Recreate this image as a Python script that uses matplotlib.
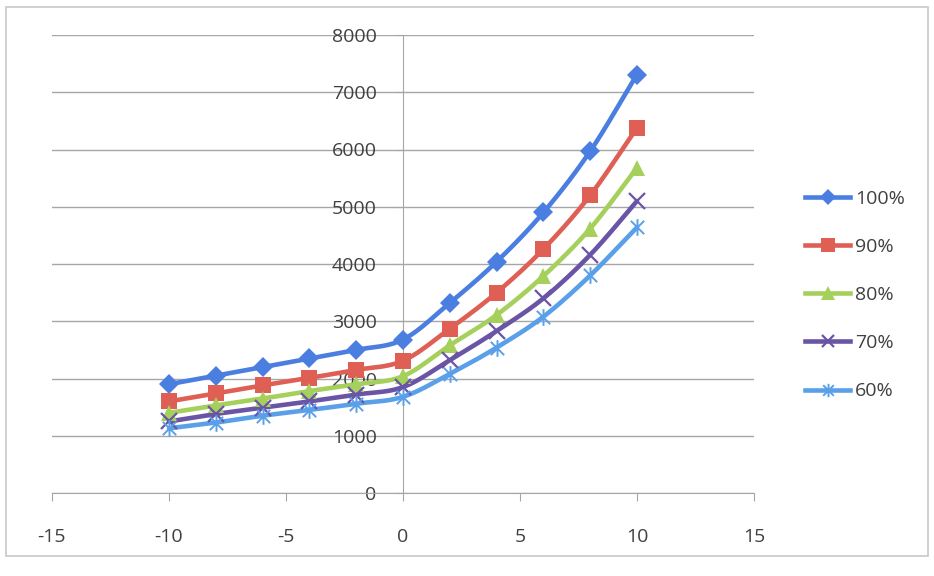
import numpy as np
import matplotlib
matplotlib.use("Agg")
import matplotlib.pyplot as plt
from matplotlib.path import Path
from matplotlib.patches import Rectangle

plt.rcParams['font.family'] = ['Open Sans', 'DejaVu Sans']
plt.rcParams['axes.unicode_minus'] = False

x = [-10, -8, -6, -4, -2, 0, 2, 4, 6, 8, 10]
s100 = [1900, 2050, 2200, 2350, 2500, 2680, 3320, 4040, 4900, 5970, 7310]
s90 = [1600, 1740, 1880, 2010, 2150, 2310, 2870, 3500, 4260, 5200, 6380]
s80 = [1400, 1530, 1650, 1780, 1900, 2040, 2580, 3110, 3790, 4620, 5680]
s70 = [1250, 1380, 1490, 1600, 1720, 1850, 2320, 2830, 3400, 4160, 5100]
s60 = [1130, 1230, 1350, 1450, 1560, 1680, 2080, 2540, 3080, 3800, 4640]
labels = ['100%', '90%', '80%', '70%', '60%']

# asterisk marker: x plus a vertical stroke
star_verts = [(-1, -1), (1, 1), (-1, 1), (1, -1), (0, -1.25), (0, 1.25)]
star_codes = [Path.MOVETO, Path.LINETO] * 3
star = Path(star_verts, star_codes)

styles = [
    dict(color='#4a7ee0', marker='D', ms=10, mew=0),
    dict(color='#df5f55', marker='s', ms=12, mew=0),
    dict(color='#a6d05c', marker='^', ms=12, mew=0),
    dict(color='#6a54a6', marker='x', ms=11, mew=1.6),
    dict(color='#5aa0e8', marker=star, ms=12, mew=1.4),
]


def smooth(xs, ys, n=20):
    # catmull-rom curve through the points
    xs = np.asarray(xs, float)
    ys = np.asarray(ys, float)
    px = np.concatenate([[2 * xs[0] - xs[1]], xs, [2 * xs[-1] - xs[-2]]])
    py = np.concatenate([[2 * ys[0] - ys[1]], ys, [2 * ys[-1] - ys[-2]]])
    ox, oy = [], []
    t = np.linspace(0, 1, n, endpoint=False)
    for i in range(1, len(px) - 2):
        for p, out in ((px, ox), (py, oy)):
            p0, p1, p2, p3 = p[i - 1], p[i], p[i + 1], p[i + 2]
            out.extend(0.5 * (2 * p1 + (-p0 + p2) * t
                              + (2 * p0 - 5 * p1 + 4 * p2 - p3) * t ** 2
                              + (-p0 + 3 * p1 - 3 * p2 + p3) * t ** 3))
    ox.append(xs[-1])
    oy.append(ys[-1])
    return ox, oy


fig = plt.figure(figsize=(9.34, 5.76), dpi=100)
fig.patches.append(Rectangle((6 / 934, 20 / 576), 922 / 934, 549 / 576,
                             transform=fig.transFigure, fill=False,
                             edgecolor='#c8c8c8', lw=1.2))
ax = fig.add_axes([52 / 934, 83 / 576, 702 / 934, 458 / 576])

for ys, lab, st in zip([s100, s90, s80, s70, s60], labels, styles):
    sx, sy = smooth(x, ys)
    ax.plot(sx, sy, color=st['color'], lw=3.3, solid_capstyle='round', zorder=3)
    ax.plot(x, ys, ls='none', color=st['color'], marker=st['marker'],
            ms=st['ms'], mew=st['mew'], mec=st['color'], zorder=4)
    ax.plot([], [], color=st['color'], lw=3.3, marker=st['marker'],
            ms=st['ms'] * 0.8, mew=st['mew'], mec=st['color'], label=lab)

ax.set_xlim(-15, 15)
ax.set_ylim(0, 8000)
ax.set_xticks(range(-15, 16, 5))
ax.set_yticks(range(0, 8001, 1000))
ax.yaxis.grid(True, color='#a6a6a6', lw=1)
ax.set_axisbelow(True)

for sp in ['top', 'right']:
    ax.spines[sp].set_visible(False)
ax.spines['left'].set_position(('data', 0))
ax.spines['left'].set_color('#a6a6a6')
ax.spines['bottom'].set_color('#a6a6a6')
ax.tick_params(axis='y', direction='out', length=6, color='#a6a6a6',
               labelsize=14, labelcolor='#404040', pad=13)
ax.tick_params(axis='x', direction='out', length=6, color='#a6a6a6',
               labelsize=14, labelcolor='#404040', pad=19)

leg = ax.legend(loc='center left', bbox_to_anchor=(1.073, 0.432), frameon=False,
                fontsize=14, handlelength=2.3, labelspacing=1.55, borderpad=0,
                borderaxespad=0, handletextpad=0.25, labelcolor='#404040')

fig.savefig('out.png', dpi=100)
